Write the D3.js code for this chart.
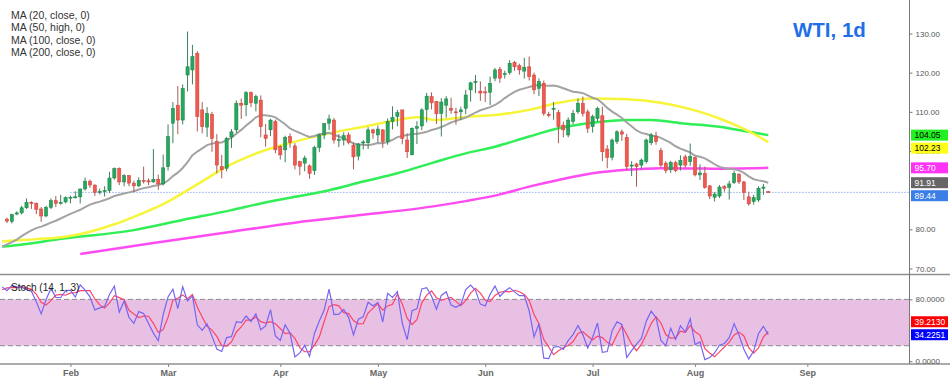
<!DOCTYPE html>
<html><head><meta charset="utf-8">
<script src="https://cdn.jsdelivr.net/npm/d3@7"></script>
<style>body{margin:0;background:#fff}svg{display:block;font-family:"Liberation Sans",Arial,sans-serif}</style>
</head><body><svg id="c" width="950" height="381"></svg>
<script>
// ---------------- DATA ----------------
const startDate = "2021-12-15";
const firstShown = "2022-01-13";
const closedDays = ["2021-12-24", "2022-04-15"];
const title = "WTI, 1d";
const legendLabels = ["MA (20, close, 0)", "MA (50, high, 0)", "MA (100, close, 0)", "MA (200, close, 0)"];
const stochLabel = "Stoch (14, 1, 3)";
const monthNames = ["Feb", "Mar", "Apr", "May", "Jun", "Jul", "Aug", "Sep"];
const monthStarts = ["2022-02", "2022-03", "2022-04", "2022-05", "2022-06", "2022-07", "2022-08", "2022-09"];
const priceTicks = [70, 80, 100, 110, 120, 130];
const stochTicks = [0, 80];
const stochBand = [20, 80];
const stochReadouts = [39.2130, 34.2251]; // %D, %K as shown on the scale

// daily OHLC (first 20 bars are history used by the indicators, left of the view)
const opens = [70.7,70.9,72.3,70.2,68.3,71.1,72.8,73.6,75.6,75.9,76.5,77.0,75.7,76.1,77.0,77.4,79.5,78.9,78.3,81.2,
82.6,82.0,83.9,84.2,85.5,86.9,86.6,85.2,83.4,85.6,87.3,86.6,87.0,
88.1,88.2,88.3,90.3,92.3,91.3,89.4,89.7,89.9,93.1,95.5,92.1,93.7,91.8,91.1,92.5,92.4,92.1,92.8,91.6,
96.0,107.1,111.7,107.9,119.4,120.7,124.9,110.5,106.1,109.4,102.4,96.0,95.6,103.6,105.4,112.2,111.8,114.9,112.2,113.0,104.1,105.4,107.5,
101.1,100.3,103.7,101.3,97.3,96.9,96.2,95.0,100.9,104.1,107.1,107.9,102.8,102.8,104.1,101.5,98.7,102.1,102.1,105.4,
104.1,105.4,102.4,107.5,108.8,110.5,102.8,99.0,105.8,106.4,110.6,113.9,112.6,109.6,111.7,110.9,110.0,110.0,110.9,115.6,117.6,115.3,
115.1,115.0,118.6,120.9,119.5,120.0,122.6,121.8,120.4,121.5,119.4,116.0,117.3,109.4,110.7,109.8,106.6,104.1,107.5,110.0,112.2,110.0,
106.2,108.3,109.0,100.5,98.4,102.4,104.9,103.5,96.2,96.7,96.4,97.3,102.1,103.8,100.1,96.9,95.2,97.0,96.4,98.5,97.3,
98.3,93.9,94.3,91.1,88.2,88.5,90.9,90.7,91.9,94.1,92.1,88.3,87.1,87.5,90.5,89.6];
const highs = [71.4,72.8,72.6,70.7,71.4,72.9,73.9,75.9,76.9,77.0,77.4,77.2,76.8,77.6,78.0,80.2,80.2,79.2,81.5,83.0,
83.0,84.0,84.6,86.0,87.9,87.2,86.9,85.7,86.0,87.9,88.5,88.8,88.4,
88.6,89.7,90.4,93.2,92.7,91.5,90.4,91.0,94.7,95.8,95.8,94.1,93.9,92.4,93.3,96.0,93.0,100.5,94.0,99.1,
106.8,112.5,116.6,117.0,130.5,127.1,125.5,112.5,111.2,110.0,104.3,99.0,103.6,105.6,112.9,113.4,115.3,115.2,114.4,114.2,106.9,108.2,108.0,
101.5,103.9,104.5,102.0,97.5,98.8,96.6,101.3,104.4,107.0,109.3,108.4,104.3,104.8,104.8,102.2,102.0,102.8,106.1,105.7,
106.5,105.5,108.3,111.4,110.5,110.1,104.5,106.0,107.6,110.9,114.8,115.0,112.8,113.5,114.0,113.6,111.0,111.3,115.6,117.7,119.4,117.8,
116.5,119.0,121.2,121.5,120.5,123.2,123.0,122.3,123.8,124.1,120.0,118.5,118.0,110.0,112.5,110.5,107.5,108.6,110.5,113.4,113.9,110.6,
109.3,111.3,111.3,101.5,103.2,105.3,105.5,104.4,97.4,97.0,98.1,103.2,104.6,104.9,100.8,97.4,97.5,97.5,98.9,99.1,101.9,
98.5,96.6,96.0,91.3,89.5,91.3,91.3,92.4,94.9,94.3,92.4,89.6,88.8,91.0,91.6,89.8];
const lows = [69.3,70.5,70.1,66.0,68.0,70.6,72.5,72.8,75.3,75.0,75.9,74.9,74.3,75.7,76.3,76.7,78.3,77.6,78.0,81.0,
81.6,81.5,83.6,83.8,85.2,85.2,83.9,81.9,83.1,85.2,85.7,86.3,86.6,
86.6,87.9,86.6,89.9,90.6,88.5,88.9,88.4,89.3,92.7,91.3,91.0,91.0,89.5,90.8,91.7,91.3,91.9,90.1,91.2,
95.0,102.0,104.3,106.8,115.2,117.0,105.0,104.5,103.6,99.8,94.3,93.0,94.8,100.8,104.6,108.2,108.9,111.2,110.1,103.5,101.1,103.8,99.4,
97.8,97.1,100.8,95.3,93.8,94.8,92.9,93.9,99.7,103.0,105.4,101.9,101.0,101.4,101.7,95.3,97.6,100.4,100.5,103.1,
102.2,100.8,101.6,105.5,106.3,101.7,98.2,99.0,101.8,105.3,107.3,110.6,106.9,103.7,108.5,109.5,106.7,108.0,109.4,112.6,114.8,112.8,
112.5,111.7,117.8,117.4,118.5,119.5,120.5,119.5,118.5,118.0,114.5,114.0,109.0,108.6,108.0,102.0,103.5,103.5,106.8,109.5,108.8,104.6,
104.7,107.5,97.4,95.6,97.6,101.8,102.6,95.1,93.6,90.9,95.4,96.8,101.5,101.6,95.9,94.3,94.4,94.6,95.0,95.7,96.2,
93.5,92.6,90.4,87.7,87.1,88.0,89.6,87.6,91.6,91.6,87.5,86.03,86.3,87.0,88.8,89.3];
const closes = [70.9,72.4,70.9,68.2,71.1,72.8,73.8,75.6,76.0,76.6,77.0,75.2,76.1,77.0,77.9,79.5,78.9,78.2,81.2,82.6,
82.1,83.8,84.2,85.5,86.9,86.6,85.1,83.4,85.6,87.3,86.6,86.9,88.1,
88.2,88.3,90.3,92.3,91.3,89.4,89.7,89.9,93.1,95.5,92.1,93.7,91.8,91.1,92.5,92.4,92.1,92.8,91.6,95.7,
103.7,110.9,107.9,116.0,121.5,124.1,108.8,106.2,109.6,103.2,96.4,95.2,103.2,104.9,112.2,111.7,114.9,112.3,113.9,106.2,103.2,107.9,100.3,
99.0,103.5,102.2,96.4,96.1,98.2,94.3,100.9,104.1,107.0,108.2,102.8,102.9,103.9,102.2,98.5,101.8,102.3,105.4,104.6,
105.6,102.4,107.6,108.6,109.8,103.2,99.8,105.8,106.2,110.5,114.0,112.3,109.5,112.5,113.3,110.4,109.9,110.5,114.3,117.4,117.7,114.8,
114.9,117.3,120.7,118.6,119.8,122.4,121.5,120.7,121.4,119.0,115.6,117.7,109.6,109.1,110.9,106.2,105.4,107.9,109.6,112.2,109.6,105.8,
108.8,110.9,99.8,98.4,102.8,104.9,104.3,96.0,96.4,96.0,97.7,102.8,104.1,102.4,96.4,95.0,97.1,95.0,97.6,96.4,98.6,
93.9,94.4,90.7,88.5,89.0,90.8,90.5,91.6,94.3,92.1,89.4,86.5,88.1,90.5,90.8,89.44];

// moving averages with long history, read at sample dates
const ma50HighDates = ["2022-01-12","2022-01-13","2022-01-21","2022-01-31","2022-02-07","2022-02-14","2022-02-18","2022-03-01","2022-03-07","2022-03-11","2022-03-17","2022-03-22","2022-03-28","2022-04-06","2022-04-18","2022-04-27","2022-05-06","2022-05-12","2022-05-18","2022-05-26","2022-06-03","2022-06-14","2022-06-22","2022-07-01","2022-07-12","2022-07-21","2022-07-27","2022-08-02","2022-08-08","2022-08-12","2022-08-18","2022-08-22"];
const ma50HighVals = [76.9,77.0,77.5,78.1,79.4,81.3,83.2,87.1,90.0,93.0,96.0,97.8,99.8,102.4,104.5,106.2,107.9,108.6,107.9,108.7,109.2,110.5,112.3,113.4,113.2,112.3,111.3,110.0,108.3,106.2,103.7,102.23];
const ma100Dates = ["2022-01-12","2022-01-13","2022-01-31","2022-02-18","2022-03-04","2022-03-18","2022-03-28","2022-04-06","2022-04-18","2022-04-27","2022-05-06","2022-05-17","2022-05-26","2022-06-03","2022-06-14","2022-06-22","2022-07-01","2022-07-12","2022-07-19","2022-07-27","2022-08-08","2022-08-16","2022-08-22"];
const ma100Vals = [75.6,75.7,77.7,79.8,82.4,84.9,86.6,88.3,90.0,92.2,94.3,96.9,99.4,101.1,103.7,105.8,107.2,107.9,107.9,107.1,106.2,104.9,104.05];
const ma200Dates = ["2022-02-03","2022-02-24","2022-03-18","2022-04-06","2022-04-27","2022-05-17","2022-05-26","2022-06-03","2022-06-14","2022-06-22","2022-07-01","2022-07-12","2022-07-21","2022-08-04","2022-08-22"];
const ma200Vals = [73.7,76.5,79.4,81.7,83.7,85.8,87.2,88.6,90.9,92.6,94.3,95.2,95.6,95.5,95.70];

// ---------------- CHART ----------------
const svg = d3.select("#c");
const plotRight = 909, mainBottom = 274.5, stTop = 274.5, stBottom = 364;

const ymd = d => d.toISOString().slice(0, 10);
const cal = [];
for (let d = new Date(startDate + "T00:00:00Z"); d <= new Date("2022-10-20T00:00:00Z"); d = new Date(d.getTime() + 864e5)) {
  const w = d.getUTCDay(), s = ymd(d);
  if (w !== 0 && w !== 6 && !closedDays.includes(s)) cal.push(s);
}
const i0 = cal.indexOf(firstShown);
const bars = closes.map((c, k) => ({ date: cal[k], i: k - i0, o: opens[k], h: highs[k], l: lows[k], c }));
const lastI = bars[bars.length - 1].i;
const idxOf = s => cal.indexOf(s) - i0;

const x = d3.scaleLinear().domain([0, lastI]).range([7, 7 + lastI * 4.88]);
const y = d3.scaleLinear().domain([70, 130]).range([268.5, 33.5]);
const ys = d3.scaleLinear().domain([0, 100]).range([361.2, 283.9]);

const defs = svg.append("defs");
defs.append("clipPath").attr("id", "cm").append("rect").attr("x", 0).attr("y", 0).attr("width", plotRight).attr("height", mainBottom);
defs.append("clipPath").attr("id", "cs").append("rect").attr("x", 0).attr("y", stTop).attr("width", plotRight).attr("height", stBottom - stTop);

// indicators
const ma20 = bars.map((b, k) => k >= 19 ? { i: b.i, v: d3.mean(closes.slice(k - 19, k + 1)) } : null).filter(Boolean);
const kArr = bars.map((b, k) => {
  if (k < 13) return null;
  const hh = d3.max(highs.slice(k - 13, k + 1)), ll = d3.min(lows.slice(k - 13, k + 1));
  return { i: b.i, v: (b.c - ll) / (hh - ll) * 100 };
});
const dArr = kArr.map((p, k) => (k >= 15 ? { i: p.i, v: d3.mean(kArr.slice(k - 2, k + 1), q => q.v) } : null)).filter(Boolean);
const kLine = kArr.filter(Boolean);

// ---- stoch panel
const gs = svg.append("g").attr("clip-path", "url(#cs)");
gs.append("rect").attr("x", 0).attr("width", plotRight).attr("y", ys(stochBand[1])).attr("height", ys(stochBand[0]) - ys(stochBand[1])).attr("fill", "#e8c0e4");
stochBand.forEach(v => gs.append("line").attr("x1", 0).attr("x2", plotRight).attr("y1", ys(v)).attr("y2", ys(v))
  .attr("stroke", "#8c8c8c").attr("stroke-dasharray", "5,3"));
const sl = d3.line().x(p => x(p.i)).y(p => ys(p.v));
gs.append("path").datum(dArr.filter(p => p.i >= -1)).attr("d", sl).attr("fill", "none").attr("stroke", "#ff4466").attr("stroke-width", 1.2);
gs.append("path").datum(kLine.filter(p => p.i >= -1)).attr("d", sl).attr("fill", "none").attr("stroke", "#7565f2").attr("stroke-width", 1.2);

// ---- main panel
const gm = svg.append("g").attr("clip-path", "url(#cm)");
const lastClose = closes[closes.length - 1];
gm.append("line").attr("x1", x(13)).attr("x2", plotRight).attr("y1", y(lastClose)).attr("y2", y(lastClose))
  .attr("stroke", "#5b86e8").attr("stroke-dasharray", "1,2").attr("stroke-width", 1);

const ml = d3.line().x(p => x(p.i)).y(p => y(p.v));
const mlc = d3.line().curve(d3.curveMonotoneX).x(p => x(p.i)).y(p => y(p.v));
const ma200 = ma200Dates.map((s, k) => ({ i: idxOf(s), v: ma200Vals[k] }));
const ma100 = ma100Dates.map((s, k) => ({ i: idxOf(s), v: ma100Vals[k] }));
const ma50 = ma50HighDates.map((s, k) => ({ i: idxOf(s), v: ma50HighVals[k] }));
gm.append("path").datum(ma200).attr("d", mlc).attr("fill", "none").attr("stroke", "#ff4cf2").attr("stroke-width", 2.5);
gm.append("path").datum(ma100).attr("d", mlc).attr("fill", "none").attr("stroke", "#30ee55").attr("stroke-width", 2.5);
gm.append("path").datum(ma50).attr("d", mlc).attr("fill", "none").attr("stroke", "#f7f53a").attr("stroke-width", 2.5);
gm.append("path").datum(ma20).attr("d", ml).attr("fill", "none").attr("stroke", "#a3a3a3").attr("stroke-width", 2);

const shown = bars.filter(b => b.i >= 0);
const cg = gm.append("g").selectAll("g").data(shown).join("g");
cg.append("line").attr("x1", b => x(b.i)).attr("x2", b => x(b.i)).attr("y1", b => y(b.h)).attr("y2", b => y(b.l))
  .attr("stroke", b => b.c >= b.o ? "#3f7f5a" : "#a85a55").attr("stroke-width", 1);
cg.append("rect").attr("x", b => x(b.i) - 1.6).attr("width", 3.2)
  .attr("y", b => y(Math.max(b.o, b.c))).attr("height", b => Math.max(1, Math.abs(y(b.o) - y(b.c))))
  .attr("fill", b => b.c >= b.o ? "#25a85e" : "#f1594f").attr("stroke", b => b.c >= b.o ? "#1d7f47" : "#c8433b").attr("stroke-width", 0.5);

// ---- frame lines
svg.append("line").attr("x1", 0).attr("x2", 950).attr("y1", mainBottom).attr("y2", mainBottom).attr("stroke", "#8f8f8f").attr("stroke-width", 1.3);
svg.append("line").attr("x1", 0).attr("x2", 950).attr("y1", stBottom).attr("y2", stBottom).attr("stroke", "#8f8f8f").attr("stroke-width", 1.3);
svg.append("line").attr("x1", plotRight + 0.5).attr("x2", plotRight + 0.5).attr("y1", 0).attr("y2", stBottom).attr("stroke", "#777").attr("stroke-width", 1);

// ---- axes
const styleAxis = g => {
  g.select(".domain").remove();
  g.selectAll(".tick line").attr("stroke", "#777");
  g.selectAll(".tick text").attr("fill", "#555").attr("font-size", "8px").attr("font-family", "Liberation Sans, Arial, sans-serif");
};
svg.append("g").attr("transform", `translate(${plotRight + 0.5},0)`)
  .call(d3.axisRight(y).tickValues(priceTicks).tickFormat(d3.format(".2f")).tickSize(3).tickPadding(3)).call(styleAxis);
svg.append("g").attr("transform", `translate(${plotRight + 0.5},0)`)
  .call(d3.axisRight(ys).tickValues(stochTicks).tickFormat(d3.format(".4f")).tickSize(3).tickPadding(3)).call(styleAxis);

const monthIdx = monthStarts.map(m => idxOf(cal.find(s => s.startsWith(m))));
const xa = svg.append("g").attr("transform", `translate(0,${stBottom})`)
  .call(d3.axisBottom(x).tickValues(monthIdx).tickFormat((d, k) => monthNames[k]).tickSize(3).tickPadding(3));
xa.select(".domain").remove();
xa.selectAll(".tick line").attr("stroke", "#888");
xa.selectAll(".tick text").attr("fill", "#666").attr("font-size", "9px").attr("font-weight", "bold").attr("font-family", "Liberation Sans, Arial, sans-serif");

// ---- value boxes
function boxes(list, scale, dir) {
  list.forEach(o => o.y = scale(o.v));
  const sp = 13;
  if (dir > 0) {
    list.sort((a, b) => a.y - b.y);
    for (let k = 1; k < list.length; k++) if (list[k].y < list[k - 1].y + sp) list[k].y = list[k - 1].y + sp;
  } else {
    list.sort((a, b) => b.y - a.y);
    for (let k = 1; k < list.length; k++) if (list[k].y > list[k - 1].y - sp) list[k].y = list[k - 1].y - sp;
  }
  const g = svg.append("g").selectAll("g").data(list).join("g").attr("transform", o => `translate(911,${o.y})`);
  g.append("rect").attr("x", 0).attr("y", -5.5).attr("width", 37).attr("height", 11).attr("fill", o => o.bg);
  g.append("text").attr("x", 3.5).attr("y", 3).attr("font-size", "8.5px").attr("fill", o => o.fg).text(o => o.t);
}
const f2 = d3.format(".2f"), f4 = d3.format(".4f");
const lastMa20 = ma20[ma20.length - 1].v;
boxes([
  { v: ma100Vals[ma100Vals.length - 1], t: f2(ma100Vals[ma100Vals.length - 1]), bg: "#22f022", fg: "#000" },
  { v: ma50HighVals[ma50HighVals.length - 1], t: f2(ma50HighVals[ma50HighVals.length - 1]), bg: "#ffff1a", fg: "#000" },
  { v: ma200Vals[ma200Vals.length - 1], t: f2(ma200Vals[ma200Vals.length - 1]), bg: "#ff33f5", fg: "#fff" },
  { v: lastMa20, t: f2(lastMa20), bg: "#666", fg: "#fff" },
  { v: lastClose, t: f2(lastClose), bg: "#3b7ee6", fg: "#fff" }
], y, 1);
boxes([
  { v: stochReadouts[1], t: f4(stochReadouts[1]), bg: "#0000ff", fg: "#fff" },
  { v: stochReadouts[0], t: f4(stochReadouts[0]), bg: "#ff0000", fg: "#fff" }
], ys, -1);

// ---- texts
svg.append("g").selectAll("text").data(legendLabels).join("text")
  .attr("x", 11).attr("y", (d, k) => 19 + k * 12.4).attr("font-size", "10.5px").attr("fill", "#333").text(d => d);
svg.append("text").attr("x", 793).attr("y", 36.5).attr("font-size", "20.5px").attr("font-weight", "bold").attr("fill", "#1f6fe8").text(title);
svg.append("text").attr("x", 11).attr("y", 290.5).attr("font-size", "10px").attr("fill", "#222").text(stochLabel);
</script>
</body></html>
